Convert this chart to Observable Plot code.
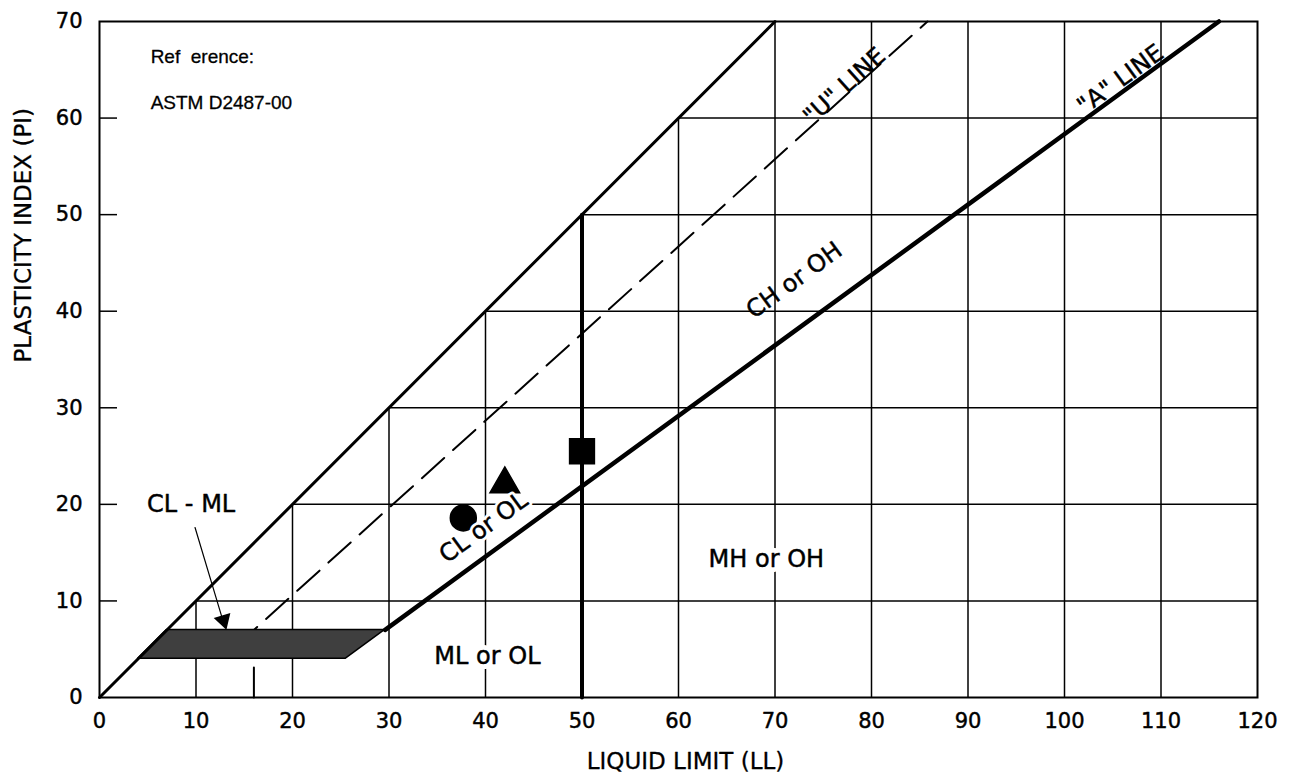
<!DOCTYPE html>
<html>
<head>
<meta charset="utf-8">
<script src="https://cdn.jsdelivr.net/npm/d3@7"></script>
<script src="https://cdn.jsdelivr.net/npm/@observablehq/plot@0.6"></script>
<style>
  body { margin: 0; background: #fff; }
  #chart svg { display: block; }
</style>
</head>
<body>
<div id="chart"></div>
<script>
// ---- Tick values ----
const xTicks = [0, 10, 20, 30, 40, 50, 60, 70, 80, 90, 100, 110, 120];
const yTicks = [0, 10, 20, 30, 40, 50, 60, 70];
const gridLL = [10, 20, 30, 40, 60, 70, 80, 90, 100, 110];
const gridPI = [10, 20, 30, 40, 50, 60];
const innerTicksPI = [10, 20, 30, 40, 50, 60];

// ---- Chart lines (endpoints) ----
const upperLL = [0, 70];
const upperPI = [0, 70];
const uLineLL = [16, 16, 85.8];
const uLinePI = [0, 7, 70];
const aLineLL = [29.6, 116];
const aLinePI = [7, 70];
const ll50LL = [50, 50];
const ll50PI = [0, 50];

// ---- CL-ML hatched band ----
const bandPI = [4, 7];
const bandLeftLL = [4, 7];
const bandRightLL = [25.5, 29.6];

// ---- Sample points ----
const pointLL = [37.7, 42.0, 50.0];
const pointPI = [18.6, 22.1, 25.5];
const pointSymbol = ["circle", "triangle", "square"];
const pointR = [13, 11, 14];

// ---- Zone labels ----
const zoneText = ["CL - ML", "MH or OH", "ML or OL", "CL or OL", "CH or OH", "\"U\" LINE", "\"A\" LINE"];
const zoneLL = [9.5, 69.1, 40.2, 39.8, 72.0, 77.2, 105.8];
const zonePI = [20.0, 14.3, 4.3, 17.6, 43.2, 63.3, 64.0];
const zoneRotate = [0, 0, 0, -36, -36, -42, -36];
const zoneHalo = [0, 10, 10, 6, 0, 0, 0];

// ---- Reference note ----
const noteText = ["Ref  erence:", "ASTM D2487-00"];
const noteLL = [5.3, 5.3];
const notePI = [66.3, 61.6];

// ---- Arrow (CL - ML pointer) ----
const arrowFrom = {ll: 9.9, pi: 17.6};
const arrowTo = {ll: 12.9, pi: 7.6};
const arrowHead = {ll: 12.85, pi: 8.0, rotate: 163};

const xTitle = "LIQUID LIMIT (LL)";
const yTitle = "PLASTICITY INDEX (PI)";

// ---- Build tables ----
const toPts = (xs, ys) => xs.map((x, i) => ({ll: x, pi: ys[i]}));
const vGrid = gridLL.map(v => ({ll: v, y1: 0, y2: Math.min(v, 70)}));
const hGrid = gridPI.map(v => ({pi: v, x1: v, x2: 120}));
const band = bandPI.map((p, i) => ({pi: p, l: bandLeftLL[i], r: bandRightLL[i]}));
const points = pointLL.map((x, i) => ({ll: x, pi: pointPI[i], symbol: pointSymbol[i], r: pointR[i]}));
const zones = zoneText.map((t, i) => ({t, ll: zoneLL[i], pi: zonePI[i], rot: zoneRotate[i], halo: zoneHalo[i]}));
const notes = noteText.map((t, i) => ({t, ll: noteLL[i], pi: notePI[i]}));

const font = "DejaVu Sans, Liberation Sans, Arial, sans-serif";
const ink = {fill: "black", stroke: "black", strokeWidth: 0.45};

const dotMarks = pointSymbol.map(s =>
  Plot.dot(points.filter(d => d.symbol === s), {
    x: "ll", y: "pi", r: "r", symbol: () => s, fill: "black", stroke: "black"
  })
);

const chart = Plot.plot({
  width: 1290,
  height: 781,
  marginLeft: 99,
  marginRight: 33,
  marginTop: 21,
  marginBottom: 84,
  style: {fontFamily: font, background: "white", color: "black"},
  x: {domain: [0, 120], axis: null},
  y: {domain: [0, 70], axis: null},
  r: {type: "identity"},
  symbol: {type: "identity"},
  marks: [
    // grid, only below the PI = LL line
    Plot.ruleX(vGrid, {x: "ll", y1: "y1", y2: "y2", stroke: "black", strokeWidth: 1.5}),
    Plot.ruleY(hGrid, {y: "pi", x1: "x1", x2: "x2", stroke: "black", strokeWidth: 1.5}),
    // inward ticks on the PI axis
    Plot.ruleY(innerTicksPI, {y: d => d, insetRight: 1140, stroke: "black", strokeWidth: 1.5}),
    // U line (dashed)
    Plot.line(toPts(uLineLL, uLinePI), {x: "ll", y: "pi", stroke: "black", strokeWidth: 2, strokeDasharray: "30,12"}),
    // CL-ML band
    Plot.areaX(band, {y: "pi", x1: "l", x2: "r", fill: "#3f3f3f", stroke: "black", strokeWidth: 1.5}),
    // upper bound PI = LL
    Plot.line(toPts(upperLL, upperPI), {x: "ll", y: "pi", stroke: "black", strokeWidth: 3}),
    // A line
    Plot.line(toPts(aLineLL, aLinePI), {x: "ll", y: "pi", stroke: "black", strokeWidth: 4.5}),
    // LL = 50
    Plot.line(toPts(ll50LL, ll50PI), {x: "ll", y: "pi", stroke: "black", strokeWidth: 4}),
    // frame
    Plot.frame({stroke: "black", strokeWidth: 2}),
    // points
    ...dotMarks,
    // arrow
    Plot.arrow([{x1: arrowFrom.ll, y1: arrowFrom.pi, x2: arrowTo.ll, y2: arrowTo.pi}], {
      x1: "x1", y1: "y1", x2: "x2", y2: "y2", stroke: "black", strokeWidth: 1.2, headLength: 0
    }),
    Plot.dot([arrowHead], {x: "ll", y: "pi", symbol: "triangle", r: 5.5, rotate: "rotate", fill: "black", stroke: "black"}),
    // labels: white halo pass, then ink pass
    Plot.text(zones.filter(d => d.halo > 0), {
      x: "ll", y: "pi", text: "t", rotate: "rot", fontSize: 24, fill: "white",
      stroke: "white", strokeWidth: "halo"
    }),
    Plot.text(zones, {x: "ll", y: "pi", text: "t", rotate: "rot", fontSize: 24, ...ink}),
    Plot.text(notes, {x: "ll", y: "pi", text: "t", textAnchor: "start", fontSize: 19, ...ink, strokeWidth: 0.3,
      fontFamily: "Liberation Sans, Arial, sans-serif"}),
    // axes: tick labels placed through the scales
    Plot.text(xTicks, {x: d => d, frameAnchor: "bottom", dy: 24, lineAnchor: "middle", fontSize: 21, ...ink}),
    Plot.text(yTicks, {y: d => d, frameAnchor: "left", dx: -17, textAnchor: "end", lineAnchor: "middle", fontSize: 21, ...ink}),
    Plot.text([xTitle], {frameAnchor: "bottom", dx: 7, dy: 64, lineAnchor: "middle", fontSize: 23, ...ink, strokeWidth: 0.3}),
    Plot.text([yTitle], {frameAnchor: "left", dx: -76, dy: 3, rotate: -90, lineAnchor: "middle", fontSize: 23, ...ink, strokeWidth: 0.3})
  ]
});

document.getElementById("chart").appendChild(chart);
</script>
</body>
</html>
